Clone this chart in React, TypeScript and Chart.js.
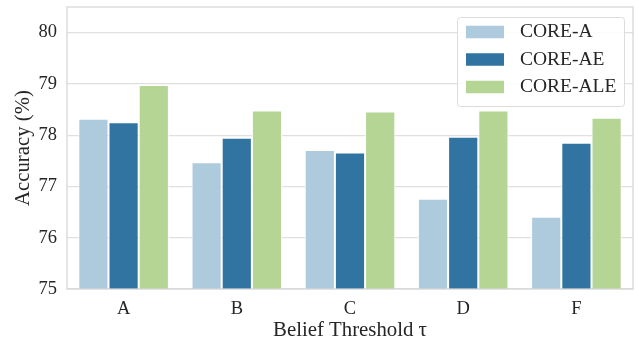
import React, { useEffect, useRef } from "react";
import { Chart, registerables } from "chart.js";

Chart.register(...registerables);

const categories = ["A", "B", "C", "D", "F"];
const seriesNames = ["CORE-A", "CORE-AE", "CORE-ALE"];
const coreA = [78.32, 77.47, 77.71, 76.76, 76.41];
const coreAE = [78.25, 77.95, 77.66, 77.97, 77.85];
const coreALE = [78.98, 78.48, 78.46, 78.48, 78.34];
const yTicks = [75, 76, 77, 78, 79, 80];
const colors = ["#aecbdd", "#3274a1", "#b4d593"];

const FONT = "'Liberation Serif', 'DejaVu Serif', serif";

const framePlugin = {
  id: "frame",
  afterDatasetsDraw(chart: any) {
    const { ctx, chartArea } = chart;
    ctx.save();
    ctx.strokeStyle = "#d6d6d6";
    ctx.lineWidth = 1.25;
    ctx.strokeRect(chartArea.left, chartArea.top, chartArea.right - chartArea.left, chartArea.bottom - chartArea.top);
    ctx.restore();
  },
  afterDraw(chart: any) {
    const { ctx, chartArea } = chart;
    const boxW = 167;
    const boxH = 89;
    const x0 = chartArea.right - 9 - boxW;
    const y0 = chartArea.top + 10;
    ctx.save();
    ctx.fillStyle = "rgba(255,255,255,0.85)";
    ctx.strokeStyle = "#dcdcdc";
    ctx.lineWidth = 1;
    ctx.beginPath();
    (ctx as any).roundRect(x0 + 0.5, y0 + 0.5, boxW, boxH, 3);
    ctx.fill();
    ctx.stroke();
    ctx.font = `19.5px ${FONT}`;
    ctx.textBaseline = "middle";
    ctx.textAlign = "left";
    chart.data.datasets.forEach((ds: any, i: number) => {
      const cy = y0 + 15 + i * 27.5;
      ctx.fillStyle = ds.backgroundColor;
      ctx.fillRect(x0 + 9, cy - 6.25, 38, 12.5);
      ctx.fillStyle = "#262626";
      ctx.fillText(ds.label, x0 + 63, cy);
    });
    ctx.restore();
  },
};

export default function App() {
  const ref = useRef<HTMLCanvasElement>(null);
  useEffect(() => {
    document.body.style.margin = "0";
    const data = [coreA, coreAE, coreALE];
    const chart = new Chart(ref.current as HTMLCanvasElement, {
      type: "bar",
      data: {
        labels: categories,
        datasets: seriesNames.map((name, i) => ({
          label: name,
          data: data[i],
          backgroundColor: colors[i],
          borderColor: "#ffffff",
          borderWidth: 1,
          borderSkipped: false,
          categoryPercentage: 0.8,
          barPercentage: 1.0,
        })),
      },
      options: {
        animation: false,
        responsive: false,
        layout: { padding: { top: 7, right: 6, left: 0, bottom: 0 } },
        plugins: { legend: { display: false }, tooltip: { enabled: false } },
        scales: {
          x: {
            grid: { display: false, drawTicks: false },
            border: { display: false },
            ticks: { color: "#262626", font: { family: FONT, size: 18.5 }, padding: 9 },
            title: {
              display: true,
              text: "Belief Threshold τ",
              color: "#262626",
              font: { family: FONT, size: 20.8 },
              padding: { top: 0, bottom: 0 },
            },
            afterFit(scale: any) {
              scale.height = 54;
              scale.paddingLeft = 0;
              scale.paddingRight = 0;
            },
          },
          y: {
            min: 75,
            max: 80.5,
            afterBuildTicks(scale: any) {
              scale.ticks = yTicks.map((v) => ({ value: v }));
            },
            grid: { color: "#e0e0e0", lineWidth: 1.25, drawTicks: false },
            border: { display: false },
            ticks: { color: "#262626", font: { family: FONT, size: 18.5 }, padding: 10 },
            title: {
              display: true,
              text: "Accuracy (%)",
              color: "#262626",
              font: { family: FONT, size: 20.8 },
              padding: { top: 11, bottom: 0 },
            },
            afterFit(scale: any) {
              scale.width = 67;
              scale.paddingTop = 0;
              scale.paddingBottom = 0;
            },
          },
        },
      },
      plugins: [framePlugin],
    });
    return () => chart.destroy();
  }, []);
  return (
    <div style={{ width: 639, height: 343 }}>
      <canvas ref={ref} width={639} height={343} style={{ display: "block" }} />
    </div>
  );
}
